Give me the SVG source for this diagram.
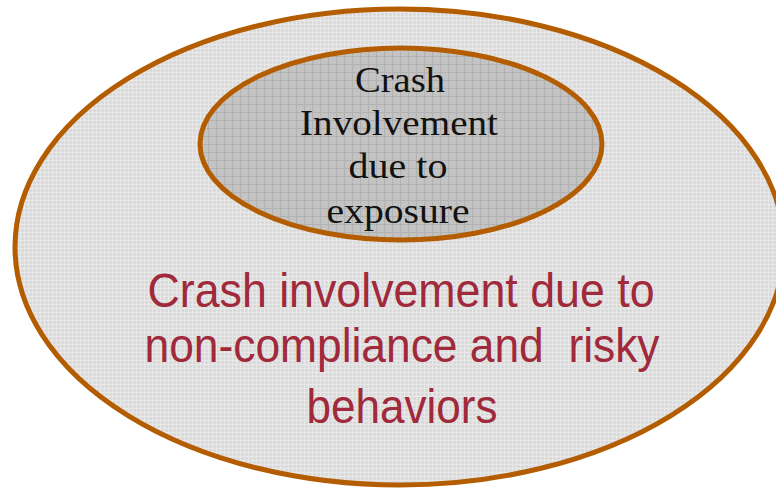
<svg xmlns="http://www.w3.org/2000/svg" width="776" height="490" viewBox="0 0 776 490">
  <defs>
    <pattern id="fineGrid" width="4" height="4" patternUnits="userSpaceOnUse">
      <rect width="4" height="4" fill="#DCDCDC"/>
      <rect x="0" y="0" width="1" height="4" fill="#E8E8E8"/>
      <rect x="0" y="0" width="4" height="1" fill="#E8E8E8"/>
      <rect x="2" y="2" width="1" height="1" fill="#D2D2D2"/>
    </pattern>
    <pattern id="coarseGrid" width="8" height="8" patternUnits="userSpaceOnUse">
      <rect width="8" height="8" fill="#C3C3C3"/>
      <rect x="0" y="0" width="1" height="8" fill="#B2B2B2"/>
      <rect x="0" y="0" width="8" height="1" fill="#B2B2B2"/>
      <rect x="4" y="4" width="1" height="1" fill="#CACACA"/>
    </pattern>
    <style>
      .ring { stroke: #B35D00; stroke-width: 5; }
      .inner-label { font-family: "Liberation Serif", "Times New Roman", serif; font-size: 36px; fill: #111111; text-anchor: middle; }
      .outer-label { font-family: "Liberation Sans", Arial, sans-serif; font-size: 48px; fill: #A0293B; text-anchor: middle; }
    </style>
  </defs>

  <g id="outer-set">
    <ellipse class="ring" cx="399.5" cy="247" rx="384.5" ry="238" fill="url(#fineGrid)"/>
    <text class="outer-label" x="401" y="307" textLength="507" lengthAdjust="spacingAndGlyphs">Crash involvement due to</text>
    <text class="outer-label" x="402" y="362" textLength="515" lengthAdjust="spacingAndGlyphs" xml:space="preserve">non-compliance and  risky</text>
    <text class="outer-label" x="402" y="423" textLength="191" lengthAdjust="spacingAndGlyphs">behaviors</text>
  </g>

  <g id="inner-set">
    <ellipse class="ring" cx="401" cy="144" rx="201" ry="96" fill="url(#coarseGrid)"/>
    <text class="inner-label" x="400" y="92" textLength="90" lengthAdjust="spacingAndGlyphs">Crash</text>
    <text class="inner-label" x="399" y="135" textLength="198" lengthAdjust="spacingAndGlyphs">Involvement</text>
    <text class="inner-label" x="398" y="178" textLength="99" lengthAdjust="spacingAndGlyphs">due to</text>
    <text class="inner-label" x="398" y="223" textLength="143" lengthAdjust="spacingAndGlyphs">exposure</text>
  </g>
</svg>
